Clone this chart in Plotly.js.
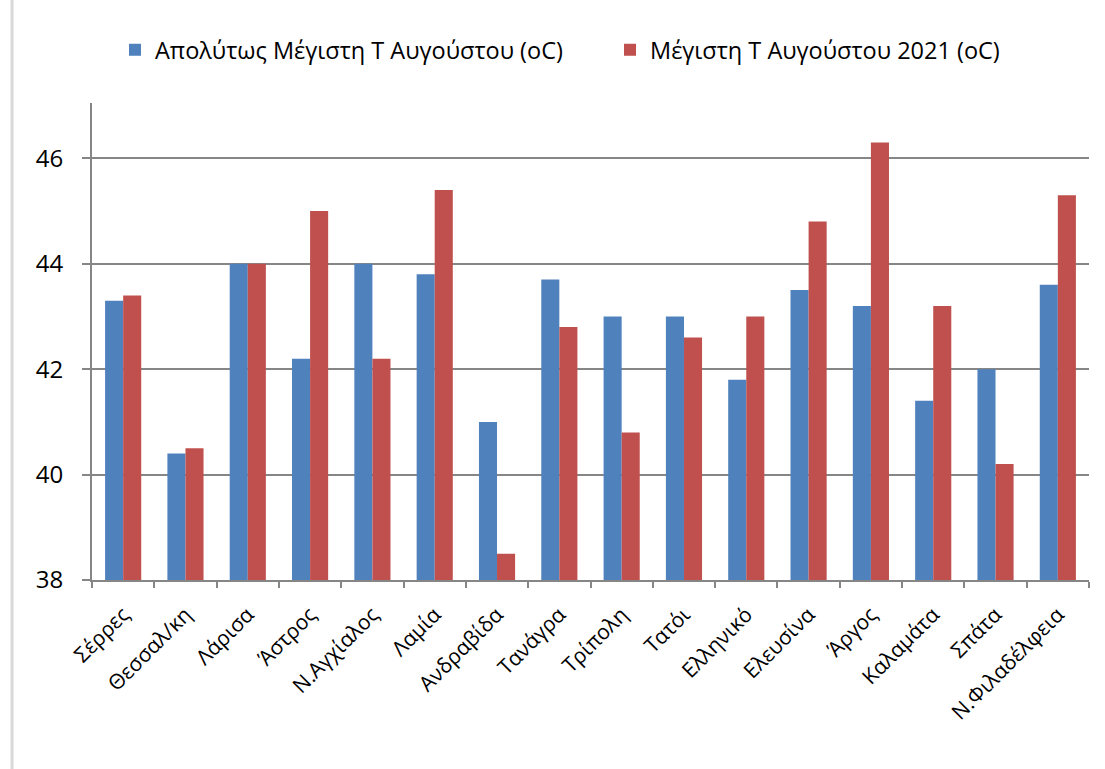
<!DOCTYPE html>
<html>
<head>
<meta charset="utf-8">
<script src="https://cdn.plot.ly/plotly-3.0.1.min.js"></script>
<style>html,body{margin:0;padding:0;background:#fff;}#chart{width:1105px;height:769px;}</style>
</head>
<body>
<div id="chart"></div>
<script>
const categories = ["Σέρρες","Θεσσαλ/κη","Λάρισα","Άστρος","Ν.Αγχίαλος","Λαμία","Ανδραβίδα","Τανάγρα","Τρίπολη","Τατόι","Ελληνικό","Ελευσίνα","Άργος","Καλαμάτα","Σπάτα","Ν.Φιλαδέλφεια"];
const absMax = [43.3,40.4,44,42.2,44,43.8,41,43.7,43,43,41.8,43.5,43.2,41.4,42,43.6];
const max2021 = [43.4,40.5,44,45,42.2,45.4,38.5,42.8,40.8,42.6,43,44.8,46.3,43.2,40.2,45.3];
const seriesNames = ["Απολύτως Μέγιστη Τ Αυγούστου (oC)","Μέγιστη Τ Αυγούστου 2021 (oC)"];
const yTicks = [38,40,42,44,46];

const traces = [
  {type:'bar', x:categories, y:absMax, name:seriesNames[0], marker:{color:'#4f81bd'}, base:0},
  {type:'bar', x:categories, y:max2021, name:seriesNames[1], marker:{color:'#c0504d'}, base:0}
];
const layout = {
  width:1105, height:769,
  margin:{l:92, r:16, t:103, b:189},
  paper_bgcolor:'#ffffff', plot_bgcolor:'#ffffff',
  font:{family:'"Open Sans", "Noto Sans", sans-serif', color:'#000'},
  barmode:'group', bargap:0.42, bargroupgap:0,
  showlegend:true,
  legend:{orientation:'h', x:0.039, xanchor:'left', xref:'paper', y:0.935, yref:'container', yanchor:'middle', font:{size:23.5}, traceorder:'normal', entrywidth:450},
  xaxis:{
    type:'category', tickangle:-45,
    tickfont:{size:21},
    showline:true, linecolor:'#868686', linewidth:2,
    ticks:'outside', ticklen:6, tickcolor:'#868686', tickwidth:2,
    ticklabelstandoff:12,
    tickson:'boundaries', showgrid:false, zeroline:false, automargin:false
  },
  yaxis:{
    range:[38,47.05], tickvals:yTicks, ticktext:yTicks.map(String),
    tickfont:{size:24}, showline:true, linecolor:'#868686', linewidth:2,
    ticks:'outside', ticklen:8, tickcolor:'#868686', tickwidth:2,
    ticklabelstandoff:14,
    showgrid:true, gridcolor:'#868686', gridwidth:1.5, zeroline:false, automargin:false
  },
  shapes:[
    {type:'line', xref:'paper', yref:'paper', x0:-0.0802, x1:-0.0802, y0:-0.4, y1:1.23, line:{color:'#d9d9d9', width:3}}
  ]
};
Plotly.newPlot('chart', traces, layout, {displayModeBar:false});
</script>
</body>
</html>
